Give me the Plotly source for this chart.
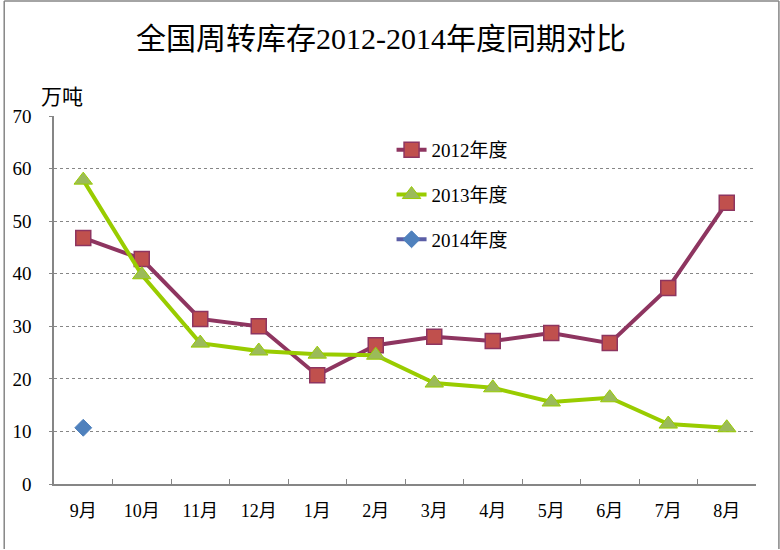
import plotly.graph_objects as go

months = ["9月", "10月", "11月", "12月", "1月", "2月", "3月", "4月", "5月", "6月", "7月", "8月"]
s2012 = [46.8, 42.8, 31.4, 30.0, 20.7, 26.4, 28.0, 27.2, 28.7, 26.8, 37.3, 53.5]
s2013 = [57.8, 39.8, 26.8, 25.3, 24.7, 24.5, 19.2, 18.3, 15.6, 16.4, 11.4, 10.7]
s2014 = [10.7, None, None, None, None, None, None, None, None, None, None, None]
names = ["2012年度", "2013年度", "2014年度"]
y_ticks = [0, 10, 20, 30, 40, 50, 60, 70]

FONT = "Liberation Serif, Noto Sans CJK SC, serif"

W, H = 780, 550
L, R, T, B = 51, 756, 116, 484

fig = go.Figure()
fig.add_trace(go.Scatter(
    x=months, y=s2012, name=names[0], mode="lines+markers", legendgroup="a",
    line=dict(color="#8E3560", width=4),
    marker=dict(symbol="square", size=15, color="#C0504D", line=dict(color="#8E3560", width=1.5)),
))
fig.add_trace(go.Scatter(
    x=months, y=s2013, name=names[1], mode="lines+markers", legendgroup="b",
    line=dict(color="#99CC00", width=4),
    marker=dict(symbol="triangle-up", size=16, color="#9BBB59", line=dict(color="#99CC00", width=1)),
))
fig.add_trace(go.Scatter(
    x=months, y=s2014, name=names[2], mode="lines+markers", legendgroup="c",
    line=dict(color="#5B5EA6", width=4),
    marker=dict(symbol="diamond", size=13, color="#4F81BD", line=dict(color="#4F81BD", width=1)),
))

pw = R - L
ph = B - T

def px_x(x):
    return (x - L) / pw

def px_y(y):
    return (B - y) / ph

shapes = [
    dict(type="line", xref="paper", yref="paper", x0=px_x(1), x1=px_x(1), y0=px_y(1), y1=px_y(549),
         line=dict(color="#868686", width=1.5)),
    dict(type="line", xref="paper", yref="paper", x0=px_x(1), x1=px_x(779), y0=px_y(1), y1=px_y(1),
         line=dict(color="#868686", width=1.5)),
    dict(type="line", xref="paper", yref="paper", x0=px_x(779), x1=px_x(779), y0=px_y(1), y1=px_y(549),
         line=dict(color="#868686", width=1.5)),
]

fig.update_layout(
    width=W, height=H,
    margin=dict(l=L, r=W - R, t=T, b=H - B, pad=0),
    paper_bgcolor="white", plot_bgcolor="white",
    font=dict(family=FONT, size=16, color="black"),
    title=dict(text="全国周转库存2012-2014年度同期对比", x=381 / W, xanchor="center", xref="container",
               y=1 - 38 / H, yanchor="middle", yref="container",
               font=dict(family=FONT, size=30, color="black")),
    showlegend=True,
    legend=dict(x=px_x(390), y=px_y(131), xanchor="left", yanchor="top", bgcolor="rgba(0,0,0,0)",
                font=dict(family=FONT, size=19), tracegroupgap=17, traceorder="grouped",
                itemwidth=30),
    shapes=shapes,
    annotations=[dict(text="万吨", xref="paper", yref="paper", x=px_x(59), y=px_y(97),
                      xanchor="center", yanchor="middle", showarrow=False,
                      font=dict(family=FONT, size=21, color="black"))],
)

fig.update_xaxes(
    type="category", range=[-0.5, 11.5], showgrid=False, showline=True, linecolor="#868686", linewidth=1.5,
    ticks="inside", tickcolor="#868686", ticklen=5, tickson="boundaries",
    tickfont=dict(family=FONT, size=18), ticklabelstandoff=10, zeroline=False,
)
fig.update_yaxes(
    range=[0, 70], tickvals=y_ticks, showgrid=True, gridcolor="#868686", griddash="dot", gridwidth=1,
    showline=True, linecolor="#868686", linewidth=1.5, ticks="outside", tickcolor="#868686", ticklen=3,
    tickfont=dict(family=FONT, size=19), ticklabelstandoff=14, zeroline=False,
)

fig.write_html("out.html", config={"displayModeBar": False},
               post_script="document.body.style.margin='0px';document.body.style.overflow='hidden';")
